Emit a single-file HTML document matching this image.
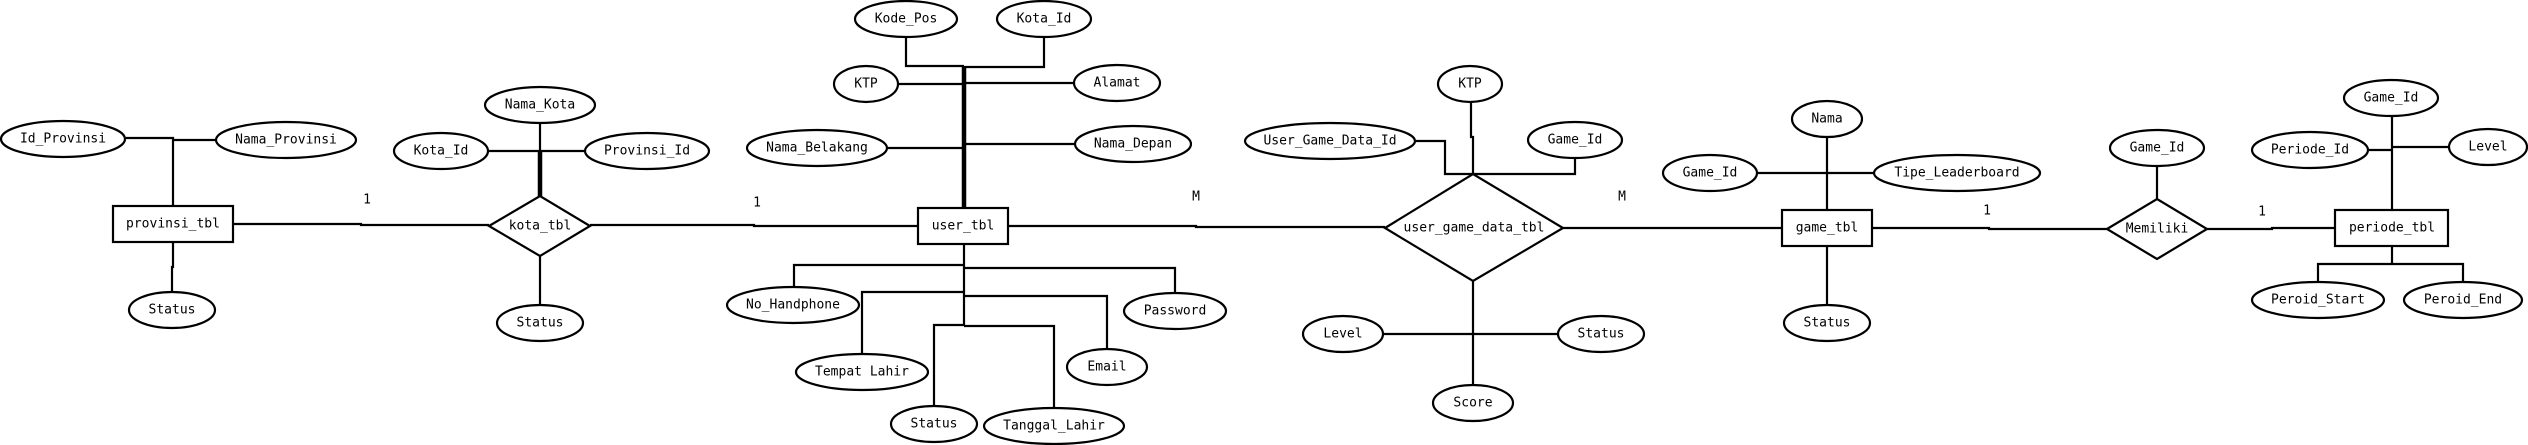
<!DOCTYPE html>
<html><head><meta charset="utf-8"><style>
html,body{margin:0;padding:0;background:#fff;}
svg{display:block;}
text{font-family:"DejaVu Sans Mono","Liberation Mono",monospace;font-size:13px;fill:#000;text-anchor:middle;dominant-baseline:central;}
.l{stroke:#000;stroke-width:2.2;fill:none;}
.t{stroke:#000;stroke-width:4.5;fill:none;}
.s{stroke:#000;stroke-width:2.2;fill:#fff;}
</style></head><body>
<svg width="2528" height="445" viewBox="0 0 2528 445" xmlns="http://www.w3.org/2000/svg">
<!-- provinsi -->
<polyline class="l" points="126,138 173,138 173,206"/>
<polyline class="l" points="173,140 216,140"/>
<polyline class="l" points="173,242 173,267 172,267 172,292"/>
<polyline class="l" points="233,224 361,224 361,225 489,225"/>
<text x="367" y="200">1</text>
<ellipse class="s" cx="63" cy="139" rx="62" ry="18"/><text x="63" y="139">Id_Provinsi</text>
<ellipse class="s" cx="286" cy="140" rx="70" ry="18"/><text x="286" y="140">Nama_Provinsi</text>
<rect class="s" x="113" y="206" width="120" height="36"/><text x="173" y="224">provinsi_tbl</text>
<ellipse class="s" cx="172" cy="310" rx="43" ry="18"/><text x="172" y="310">Status</text>
<!-- kota -->
<polyline class="l" points="488,151 585,151"/>
<polyline class="l" points="540,123 540,151"/>
<polyline class="t" points="540,151 540,196"/>
<polyline class="l" points="540,256 540,305"/>
<polyline class="l" points="590,225 754,225 754,226 918,226"/>
<text x="757" y="203">1</text>
<polygon class="s" points="489,226 540,196 590,226 540,256"/><text x="540" y="226">kota_tbl</text>
<ellipse class="s" cx="540" cy="105" rx="55" ry="18"/><text x="540" y="105">Nama_Kota</text>
<ellipse class="s" cx="441" cy="151" rx="47" ry="18"/><text x="441" y="151">Kota_Id</text>
<ellipse class="s" cx="647" cy="151" rx="62" ry="18"/><text x="647" y="151">Provinsi_Id</text>
<ellipse class="s" cx="540" cy="323" rx="43" ry="18"/><text x="540" y="323">Status</text>
<!-- user -->
<polyline class="t" points="964,66 964,208"/>
<polyline class="l" points="906,37 906,66 964,66"/>
<polyline class="l" points="1044,37 1044,67 964,67"/>
<polyline class="l" points="898,84 964,84"/>
<polyline class="l" points="964,83 1074,83"/>
<polyline class="l" points="887,148 964,148"/>
<polyline class="l" points="964,144 1075,144"/>
<polyline class="l" points="1008,226 1196,226 1196,227 1385,227"/>
<text x="1196" y="197">M</text>
<polyline class="l" points="964,244 964,326"/>
<polyline class="l" points="964,265 794,265 794,287"/>
<polyline class="l" points="964,268 1175,268 1175,293"/>
<polyline class="l" points="964,292 862,292 862,354"/>
<polyline class="l" points="964,296 1107,296 1107,349"/>
<polyline class="l" points="964,325 934,325 934,406"/>
<polyline class="l" points="964,326 1054,326 1054,408"/>
<rect class="s" x="918" y="208" width="90" height="36"/><text x="963" y="226">user_tbl</text>
<ellipse class="s" cx="906" cy="19" rx="51" ry="18"/><text x="906" y="19">Kode_Pos</text>
<ellipse class="s" cx="1044" cy="19" rx="47" ry="18"/><text x="1044" y="19">Kota_Id</text>
<ellipse class="s" cx="866" cy="84" rx="32" ry="18"/><text x="866" y="84">KTP</text>
<ellipse class="s" cx="1117" cy="83" rx="43" ry="18"/><text x="1117" y="83">Alamat</text>
<ellipse class="s" cx="817" cy="148" rx="70" ry="18"/><text x="817" y="148">Nama_Belakang</text>
<ellipse class="s" cx="1133" cy="144" rx="58" ry="18"/><text x="1133" y="144">Nama_Depan</text>
<ellipse class="s" cx="793" cy="305" rx="66" ry="18"/><text x="793" y="305">No_Handphone</text>
<ellipse class="s" cx="1175" cy="311" rx="51" ry="18"/><text x="1175" y="311">Password</text>
<ellipse class="s" cx="862" cy="372" rx="66" ry="18"/><text x="862" y="372">Tempat Lahir</text>
<ellipse class="s" cx="1107" cy="367" rx="40" ry="18"/><text x="1107" y="367">Email</text>
<ellipse class="s" cx="934" cy="424" rx="43" ry="18"/><text x="934" y="424">Status</text>
<ellipse class="s" cx="1054" cy="426" rx="70" ry="18"/><text x="1054" y="426">Tanggal_Lahir</text>
<!-- user_game_data -->
<polyline class="l" points="1471,102 1471,137 1473,137 1473,174"/>
<polyline class="l" points="1416,141 1445,141 1445,174 1575,174 1575,158"/>
<polyline class="l" points="1563,228 1782,228"/>
<text x="1622" y="197">M</text>
<polyline class="l" points="1473,280 1473,385"/>
<polyline class="l" points="1383,334 1473,334 1559,334"/>
<polygon class="s" points="1385,228 1473,174 1563,228 1473,281"/><text x="1474" y="228">user_game_data_tbl</text>
<ellipse class="s" cx="1470" cy="84" rx="32" ry="18"/><text x="1470" y="84">KTP</text>
<ellipse class="s" cx="1330" cy="141" rx="85" ry="18"/><text x="1330" y="141">User_Game_Data_Id</text>
<ellipse class="s" cx="1575" cy="140" rx="47" ry="18"/><text x="1575" y="140">Game_Id</text>
<ellipse class="s" cx="1343" cy="334" rx="40" ry="18"/><text x="1343" y="334">Level</text>
<ellipse class="s" cx="1601" cy="334" rx="43" ry="18"/><text x="1601" y="334">Status</text>
<ellipse class="s" cx="1473" cy="403" rx="40" ry="18"/><text x="1473" y="403">Score</text>
<!-- game -->
<polyline class="l" points="1827,137 1827,210"/>
<polyline class="l" points="1757,173 1874,173"/>
<polyline class="l" points="1827,246 1827,305"/>
<polyline class="l" points="1872,228 1989,228 1989,229 2107,229"/>
<text x="1987" y="211">1</text>
<rect class="s" x="1782" y="210" width="90" height="36"/><text x="1827" y="228">game_tbl</text>
<ellipse class="s" cx="1827" cy="119" rx="35" ry="18"/><text x="1827" y="119">Nama</text>
<ellipse class="s" cx="1710" cy="173" rx="47" ry="18"/><text x="1710" y="173">Game_Id</text>
<ellipse class="s" cx="1957" cy="173" rx="83" ry="18"/><text x="1957" y="173">Tipe_Leaderboard</text>
<ellipse class="s" cx="1827" cy="323" rx="43" ry="18"/><text x="1827" y="323">Status</text>
<!-- memiliki -->
<polyline class="l" points="2157,166 2157,199"/>
<polyline class="l" points="2207,229 2272,229 2272,228 2335,228"/>
<text x="2262" y="212">1</text>
<polygon class="s" points="2107,229 2157,199 2207,229 2157,259"/><text x="2157" y="229">Memiliki</text>
<ellipse class="s" cx="2157" cy="148" rx="47" ry="18"/><text x="2157" y="148">Game_Id</text>
<!-- periode -->
<polyline class="l" points="2392,116 2392,210"/>
<polyline class="l" points="2368,150 2392,150"/>
<polyline class="l" points="2392,147 2449,147"/>
<polyline class="l" points="2392,246 2392,264"/>
<polyline class="l" points="2318,283 2318,264 2463,264 2463,283"/>
<rect class="s" x="2335" y="210" width="113" height="36"/><text x="2392" y="228">periode_tbl</text>
<ellipse class="s" cx="2391" cy="98" rx="47" ry="18"/><text x="2391" y="98">Game_Id</text>
<ellipse class="s" cx="2310" cy="150" rx="58" ry="18"/><text x="2310" y="150">Periode_Id</text>
<ellipse class="s" cx="2488" cy="147" rx="39" ry="18"/><text x="2488" y="147">Level</text>
<ellipse class="s" cx="2318" cy="300" rx="66" ry="18"/><text x="2318" y="300">Peroid_Start</text>
<ellipse class="s" cx="2463" cy="300" rx="59" ry="18"/><text x="2463" y="300">Peroid_End</text>
</svg>
</body></html>
